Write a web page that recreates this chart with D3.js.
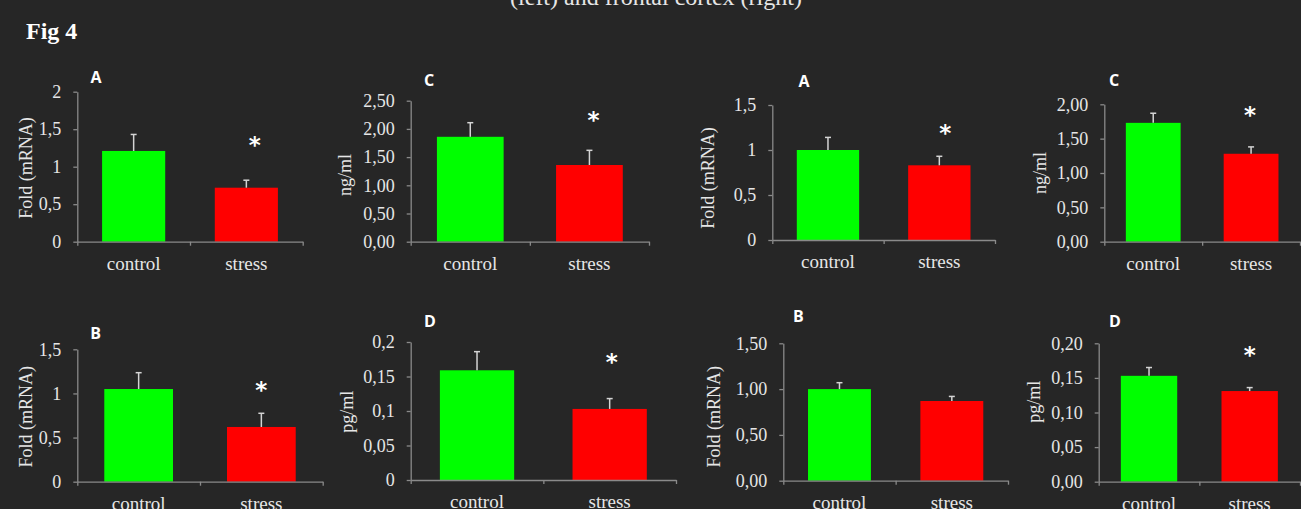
<!DOCTYPE html>
<meta charset="utf-8">
<style>

body {
  margin: 0;
  background-color: #262626;
}

svg {
  display: block;
}

.axis path,
.axis line {
  stroke: #8a8a8a;
  stroke-width: 1.3px;
}

.axis text {
  fill: #e6e6e6;
  font-family: "Liberation Serif", "Times New Roman", serif;
  font-size: 18px;
}

.cat {
  fill: #e6e6e6;
  font-family: "Liberation Serif", serif;
  font-size: 19px;
}

.ylab {
  fill: #e6e6e6;
  font-family: "Liberation Serif", serif;
  font-size: 18px;
}

.letter {
  fill: #ffffff;
  font-family: "Open Sans", sans-serif;
  font-weight: bold;
  font-size: 16px;
}

.star {
  fill: #ffffff;
  font-family: "DejaVu Sans", sans-serif;
  font-weight: bold;
  font-size: 23px;
}

.err {
  stroke: #d4d4d4;
  stroke-width: 1.5px;
}

</style>
<body>
<svg width="1301" height="509"></svg>
<script src="https://d3js.org/d3.v7.min.js"></script>
<script>

// data
var categories = ["control", "stress"];
var barColors = ["#00ff00", "#ff0000"];
var panelLetters = ["A", "C", "A", "C", "B", "D", "B", "D"];
var yTitles = ["Fold (mRNA)", "ng/ml", "Fold (mRNA)", "ng/ml",
               "Fold (mRNA)", "pg/ml", "Fold (mRNA)", "pg/ml"];
var means = [[1.21, 0.72], [1.86, 1.36], [1.00, 0.83], [1.73, 1.28],
             [1.05, 0.62], [0.159, 0.103], [1.00, 0.87], [0.153, 0.131]];
var errors = [[0.22, 0.10], [0.25, 0.26], [0.14, 0.10], [0.14, 0.10],
              [0.185, 0.155], [0.027, 0.015], [0.07, 0.05], [0.012, 0.005]];
var significant = [true, true, true, true, true, true, false, true];
var tickValues = [
  [0, 0.5, 1, 1.5, 2],
  [0, 0.5, 1, 1.5, 2, 2.5],
  [0, 0.5, 1, 1.5],
  [0, 0.5, 1, 1.5, 2],
  [0, 0.5, 1, 1.5],
  [0, 0.05, 0.1, 0.15, 0.2],
  [0, 0.5, 1, 1.5],
  [0, 0.05, 0.1, 0.15, 0.2]
];
var tickLabels = [
  ["0", "0,5", "1", "1,5", "2"],
  ["0,00", "0,50", "1,00", "1,50", "2,00", "2,50"],
  ["0", "0,5", "1", "1,5"],
  ["0,00", "0,50", "1,00", "1,50", "2,00"],
  ["0", "0,5", "1", "1,5"],
  ["0", "0,05", "0,1", "0,15", "0,2"],
  ["0,00", "0,50", "1,00", "1,50"],
  ["0,00", "0,05", "0,10", "0,15", "0,20"]
];
var titleText = "(left) and frontal cortex (right)";
var figLabel = "Fig 4";

// panel frames: axis x range, axis y range, plus label offsets
var layout = [
  {x0: 77.3,   x1: 302.7, top: 91.7,  bot: 241.7, lx: 18.7, ly: 77,    tx: 26,     ty: 168,   sx: 8.5, so: 40},
  {x0: 410.7,  x1: 649,   top: 100.7, bot: 241.7, lx: 18.3, ly: 80.7,  tx: 345,    ty: 175,   sx: 4,   so: 35},
  {x0: 772.3,  x1: 995,   top: 105,   bot: 240,   lx: 31.7, ly: 81.7,  tx: 707.7,  ty: 178,   sx: 6,   so: 28},
  {x0: 1104.3, x1: 1300,  top: 104.3, bot: 241.7, lx: 9.7,  ly: 80.7,  tx: 1040,   ty: 173,   sx: -1,  so: 37},
  {x0: 77.3,   x1: 322.7, top: 349.3, bot: 481.7, lx: 18.4, ly: 333.3, tx: 26,     ty: 416.7, sx: 0,   so: 28},
  {x0: 410.7,  x1: 676,   top: 342,   bot: 480,   lx: 19.3, ly: 321.7, tx: 346.7,  ty: 411.7, sx: 2,   so: 41},
  {x0: 783.3,  x1: 1008,  top: 343.3, bot: 480.7, lx: 15,   ly: 316,   tx: 713.3,  ty: 416.7, sx: 0,   so: 30},
  {x0: 1098.7, x1: 1300,  top: 343.3, bot: 481.7, lx: 16.3, ly: 321,   tx: 1033.3, ty: 401.7, sx: 0,   so: 37}
];

var svg = d3.select("svg");

svg.append("text")
    .attr("x", 656)
    .attr("y", 5)
    .attr("text-anchor", "middle")
    .style("fill", "#e6e6e6")
    .style("font-family", "Liberation Serif, serif")
    .style("font-size", "24px")
    .text(titleText);

svg.append("text")
    .attr("x", 26)
    .attr("y", 39)
    .style("fill", "#ffffff")
    .style("font-family", "Liberation Serif, serif")
    .style("font-weight", "bold")
    .style("font-size", "24px")
    .text(figLabel);

layout.forEach(function(p, i) {
  var g = svg.append("g");

  var y = d3.scaleLinear()
      .domain([0, d3.max(tickValues[i])])
      .range([p.bot, p.top]);

  var x = d3.scaleBand()
      .domain(categories)
      .range([p.x0, p.x1])
      .paddingInner(0.44)
      .paddingOuter(0.22);

  var xEdge = d3.scaleLinear()
      .domain([0, categories.length])
      .range([p.x0, p.x1]);

  var rows = categories.map(function(c, j) {
    return {cat: c, mean: means[i][j], err: errors[i][j], color: barColors[j]};
  });

  // bars
  g.selectAll(".bar")
    .data(rows)
    .enter().append("rect")
      .attr("class", "bar")
      .attr("x", function(d) { return x(d.cat); })
      .attr("width", x.bandwidth())
      .attr("y", function(d) { return y(d.mean); })
      .attr("height", function(d) { return y(0) - y(d.mean); })
      .attr("fill", function(d) { return d.color; });

  // error bars (upper only)
  var cx = function(d) { return x(d.cat) + x.bandwidth() / 2; };
  g.selectAll(".errv")
    .data(rows)
    .enter().append("line")
      .attr("class", "err")
      .attr("x1", cx).attr("x2", cx)
      .attr("y1", function(d) { return y(d.mean); })
      .attr("y2", function(d) { return y(d.mean + d.err); });
  g.selectAll(".errc")
    .data(rows)
    .enter().append("line")
      .attr("class", "err")
      .attr("x1", function(d) { return cx(d) - 3; })
      .attr("x2", function(d) { return cx(d) + 3; })
      .attr("y1", function(d) { return y(d.mean + d.err); })
      .attr("y2", function(d) { return y(d.mean + d.err); });

  // axes
  g.append("g")
      .attr("class", "axis")
      .attr("transform", "translate(" + p.x0 + ",0)")
      .call(d3.axisLeft(y)
        .tickValues(tickValues[i])
        .tickFormat(function(d, k) { return tickLabels[i][k]; })
        .tickSize(4)
        .tickSizeOuter(0)
        .tickPadding(12));

  g.append("g")
      .attr("class", "axis")
      .attr("transform", "translate(0," + p.bot + ")")
      .call(d3.axisBottom(xEdge)
        .tickValues(d3.range(categories.length + 1))
        .tickFormat("")
        .tickSize(4)
        .tickSizeOuter(0));

  g.selectAll(".cat")
    .data(rows)
    .enter().append("text")
      .attr("class", "cat")
      .attr("x", cx)
      .attr("y", p.bot + 28)
      .attr("text-anchor", "middle")
      .text(function(d) { return d.cat; });

  g.append("text")
      .attr("class", "ylab")
      .attr("transform", "translate(" + p.tx + "," + p.ty + ") rotate(-90)")
      .attr("text-anchor", "middle")
      .attr("dy", "0.35em")
      .text(yTitles[i]);

  g.append("text")
      .attr("class", "letter")
      .attr("x", p.x0 + p.lx)
      .attr("y", p.ly)
      .attr("text-anchor", "middle")
      .attr("dy", "0.36em")
      .text(panelLetters[i]);

  if (significant[i]) {
    var s = rows[1];
    g.append("text")
        .attr("class", "star")
        .attr("x", cx(s) + p.sx)
        .attr("y", y(s.mean + s.err) - p.so)
        .attr("text-anchor", "middle")
        .attr("dy", "0.55em")
        .text("*");
  }
});

</script>
</body>
